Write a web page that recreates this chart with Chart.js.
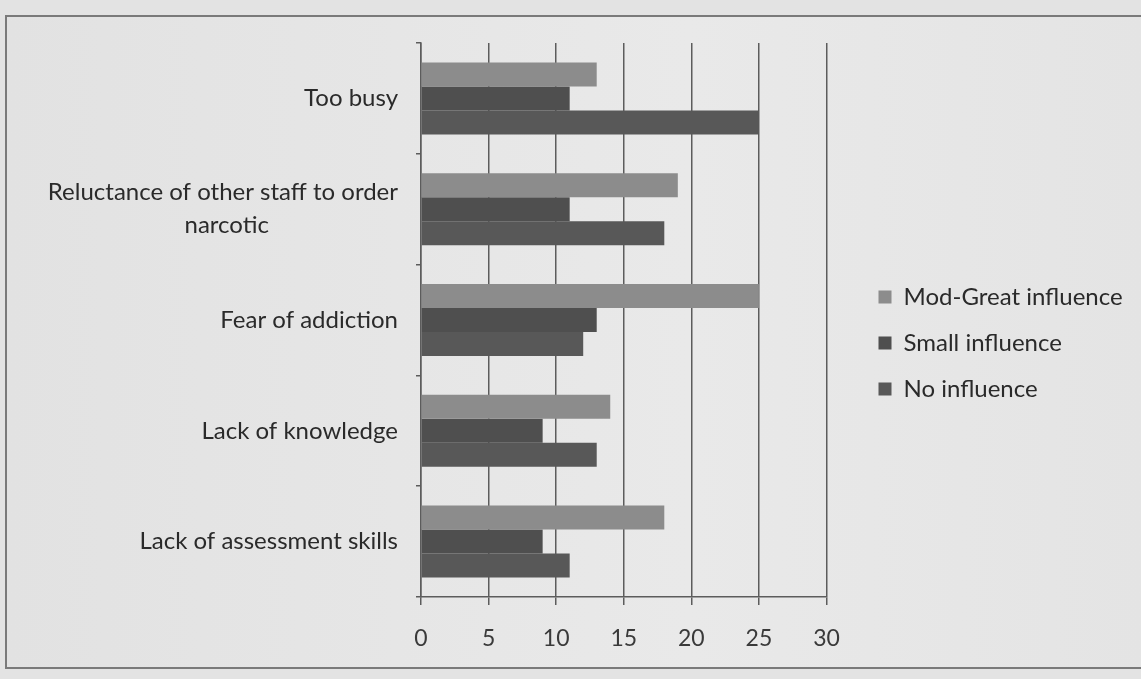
<!DOCTYPE html>
<html>
<head>
<meta charset="utf-8">
<script src="https://cdn.jsdelivr.net/npm/chart.js@4"></script>
<style>
  html, body { margin: 0; padding: 0; background: #e3e3e3; }
  #frame {
    position: absolute; left: 5px; top: 15px; width: 1140px; height: 654px;
    border: 2px solid #7a7a7a; box-sizing: border-box;
    background: linear-gradient(90deg, #e2e2e2, #e9e9e9 60%, #e4e4e4);
  }
  #wrap { position: absolute; left: 0; top: 0; width: 1141px; height: 679px; }
</style>
</head>
<body>
<div id="frame"></div>
<div id="wrap"><canvas id="chart"></canvas></div>
<script>
const categories = [
    'Too busy',
    ['Reluctance of other staff to order', 'narcotic'],
    'Fear of addiction',
    'Lack of knowledge',
    'Lack of assessment skills'
];
const modGreat = [13, 19, 25, 14, 18];
const small = [11, 11, 13, 9, 9];
const noInfluence = [25, 18, 12, 13, 11];
const xTicks = [0, 5, 10, 15, 20, 25, 30];

const font = 'Lato, "Open Sans", sans-serif';
const labelSize = 24;

// labels are right-aligned by Chart.js; pad short lines so wrapped lines look centred
function centreLines(label) {
    if (!Array.isArray(label)) return label;
    const ctx = document.createElement('canvas').getContext('2d');
    ctx.font = labelSize + 'px ' + font;
    const widest = Math.max(...label.map(s => ctx.measureText(s).width));
    return label.map(s => {
        let t = s;
        while (ctx.measureText(t + ' ').width <= (ctx.measureText(s).width + widest) / 2) t += ' ';
        return t;
    });
}

// nudge the legend to where the original sits (a bit higher, further right)
const legendShift = {
    id: 'legendShift',
    afterLayout(chart) {
        chart.legend.top -= 18;
        chart.legend.bottom -= 18;
        chart.legend.left += 30;
        chart.legend.right += 30;
    }
};

document.fonts.load(labelSize + 'px Lato').then(() => {
new Chart(document.getElementById('chart'), {
    type: 'bar',
    data: {
        labels: categories.map(centreLines),
        datasets: [
            { label: 'Mod-Great influence', data: modGreat, backgroundColor: '#8c8c8c' },
            { label: 'Small influence', data: small, backgroundColor: '#4f4f4f' },
            { label: 'No influence', data: noInfluence, backgroundColor: '#585858' }
        ]
    },
    options: {
        indexAxis: 'y',
        responsive: true,
        maintainAspectRatio: false,
        animation: false,
        datasets: {
            bar: { barPercentage: 1.0, categoryPercentage: 0.65 }
        },
        layout: { padding: { top: 43, right: 39, bottom: 0, left: 0 } },
        scales: {
            x: {
                min: 0,
                max: 30,
                afterBuildTicks: (scale) => { scale.ticks = xTicks.map(v => ({ value: v })); },
                afterFit: (scale) => { scale.height = 82; },
                grid: { color: '#5c5c5c', lineWidth: 1.5, tickLength: 8 },
                border: { display: true, color: '#5c5c5c', width: 1.5 },
                ticks: { color: '#3a3a3a', font: { family: font, size: 23 }, padding: 20 }
            },
            y: {
                afterFit: (scale) => { scale.width = 421; },
                grid: { offset: true, drawOnChartArea: false, color: '#5c5c5c', lineWidth: 1.5, tickLength: 5 },
                border: { display: true, color: '#5c5c5c', width: 1.5 },
                ticks: { color: '#2a2a2a', font: { family: font, size: labelSize, lineHeight: 1.38 }, padding: 18 }
            }
        },
        plugins: {
            legend: {
                position: 'right',
                labels: {
                    color: '#2a2a2a',
                    font: { family: font, size: labelSize },
                    boxWidth: 13,
                    boxHeight: 13,
                    padding: 22
                }
            },
            tooltip: { enabled: false }
        }
    },
    plugins: [legendShift]
});
});
</script>
</body>
</html>
